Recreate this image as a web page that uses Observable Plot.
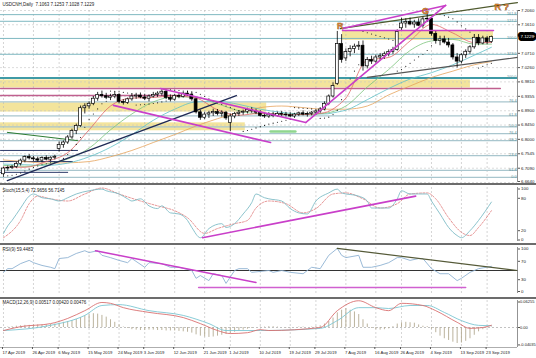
<!DOCTYPE html>
<html><head><meta charset="utf-8">
<script src="https://cdn.jsdelivr.net/npm/d3@7"></script>
<script src="https://cdn.jsdelivr.net/npm/@observablehq/plot@0.6"></script>
<style>
html,body{margin:0;padding:0;background:#fff;}
#chart{width:536px;height:358px;overflow:hidden;font-family:"Liberation Sans",Arial,sans-serif;}
#chart svg{display:block}
.sep{height:2px;background:#6c6c6c;width:536px}
</style></head><body><div id="chart"></div>
<script>
// ---------- DATA ----------
const titleText = "USDCNH,Daily  7.1063 7.1253 7.1028 7.1229";
const stochTitle = "Stoch(15,5,4) 72.9656 56.7145";
const rsiTitle = "RSI(9) 59.4483";
const macdTitle = "MACD(12,26,9) 0.00517 0.00420 0.00476";

const open = [
6.690,6.708,6.710,6.713,6.722,6.733,6.744,6.740,6.737,6.733,
6.741,6.736,6.742,6.770,6.782,6.790,6.806,6.826,6.842,6.898,
6.904,6.912,6.928,6.940,6.936,6.931,6.935,6.940,6.918,6.915,
6.926,6.935,6.938,6.932,6.928,6.935,6.940,6.944,6.950,6.930,
6.925,6.937,6.934,6.944,6.941,6.926,6.885,6.868,6.878,6.882,
6.886,6.880,6.884,6.852,6.872,6.880,6.884,6.887,6.892,6.888,
6.884,6.874,6.872,6.878,6.874,6.880,6.878,6.876,6.872,6.878,
6.882,6.878,6.880,6.884,6.888,6.894,6.912,6.935,6.975,7.100,
7.055,7.075,7.085,7.092,7.095,7.030,7.050,7.045,7.058,7.062,
7.068,7.075,7.082,7.150,7.165,7.170,7.162,7.168,7.158,7.178,
7.180,7.132,7.110,7.115,7.105,7.096,7.058,7.045,7.065,7.076,
7.090,7.120,7.102,7.118,7.1063];
const high = [
6.712,6.716,6.718,6.728,6.738,6.748,6.752,6.746,6.744,6.745,
6.748,6.745,6.750,6.792,6.795,6.812,6.832,6.848,6.905,6.912,
6.918,6.935,6.948,6.952,6.945,6.942,6.948,6.944,6.925,6.930,
6.942,6.945,6.946,6.942,6.940,6.948,6.950,6.956,6.955,6.940,
6.942,6.946,6.948,6.952,6.948,6.930,6.892,6.885,6.888,6.895,
6.894,6.890,6.888,6.880,6.885,6.890,6.892,6.898,6.900,6.895,
6.890,6.882,6.884,6.885,6.886,6.888,6.885,6.884,6.882,6.886,
6.890,6.886,6.888,6.892,6.900,6.918,6.940,6.978,7.140,7.130,
7.085,7.095,7.100,7.108,7.110,7.058,7.062,7.065,7.070,7.075,
7.082,7.090,7.145,7.182,7.180,7.182,7.175,7.180,7.185,7.197,
7.184,7.140,7.125,7.125,7.118,7.102,7.070,7.070,7.082,7.095,
7.128,7.130,7.125,7.124,7.1253];
const low = [
6.684,6.700,6.705,6.708,6.716,6.726,6.735,6.730,6.728,6.726,
6.732,6.730,6.735,6.760,6.772,6.784,6.800,6.815,6.838,6.880,
6.895,6.906,6.920,6.930,6.925,6.922,6.928,6.912,6.908,6.910,
6.920,6.926,6.928,6.922,6.918,6.930,6.932,6.936,6.925,6.918,
6.920,6.928,6.930,6.936,6.920,6.880,6.860,6.862,6.866,6.872,
6.874,6.870,6.860,6.825,6.865,6.872,6.876,6.880,6.882,6.878,
6.870,6.866,6.866,6.868,6.870,6.872,6.870,6.868,6.866,6.872,
6.874,6.870,6.874,6.876,6.882,6.890,6.906,6.930,6.970,7.040,
7.045,7.060,7.070,7.080,7.015,7.022,7.036,7.040,7.048,7.052,
7.060,7.068,7.078,7.140,7.150,7.158,7.150,7.155,7.150,7.168,
7.125,7.100,7.095,7.100,7.088,7.050,7.025,7.038,7.055,7.068,
7.084,7.095,7.098,7.098,7.1028];
const close = [
6.708,6.710,6.713,6.722,6.733,6.744,6.740,6.737,6.733,6.741,
6.736,6.742,6.745,6.782,6.790,6.806,6.826,6.842,6.898,6.904,
6.912,6.928,6.940,6.936,6.931,6.935,6.940,6.918,6.915,6.926,
6.935,6.938,6.932,6.928,6.935,6.940,6.944,6.950,6.930,6.925,
6.937,6.934,6.944,6.941,6.926,6.885,6.868,6.878,6.882,6.886,
6.880,6.884,6.866,6.872,6.880,6.884,6.887,6.892,6.888,6.884,
6.874,6.872,6.878,6.874,6.880,6.878,6.876,6.872,6.878,6.882,
6.878,6.880,6.884,6.888,6.894,6.912,6.935,6.968,7.100,7.050,
7.075,7.085,7.092,7.095,7.030,7.050,7.045,7.058,7.062,7.068,
7.075,7.082,7.138,7.165,7.170,7.162,7.168,7.158,7.178,7.180,
7.132,7.110,7.115,7.105,7.096,7.058,7.045,7.065,7.076,7.090,
7.120,7.102,7.118,7.106,7.1229];
const sar = [
6.684,6.685,6.687,6.690,6.694,6.700,6.706,6.711,6.716,6.720,
6.723,6.726,6.728,6.731,6.740,6.752,6.766,6.784,6.806,6.838,
6.862,6.880,6.896,6.912,6.920,6.952,6.951,6.950,6.948,6.946,
6.944,6.908,6.909,6.910,6.911,6.913,6.915,6.918,6.921,6.956,
6.955,6.954,6.952,6.951,6.950,6.948,6.942,6.935,6.928,6.921,
6.915,6.910,6.905,6.900,6.895,6.891,6.825,6.828,6.832,6.836,
6.840,6.844,6.848,6.851,6.854,6.857,6.860,6.863,6.900,6.899,
6.898,6.897,6.896,6.895,6.866,6.867,6.870,6.878,6.892,6.925,
6.960,6.990,7.015,7.035,7.140,7.136,7.132,7.128,7.124,7.120,
7.116,7.112,7.015,7.020,7.030,7.040,7.050,7.060,7.068,7.080,
7.095,7.197,7.194,7.190,7.185,7.180,7.170,7.158,7.148,7.138,
7.130,7.025,7.030,7.035,7.040];

// moving averages read at sample bars
const maIdx    = [0,5,10,15,20,25,30,35,40,45,50,55,60,65,70,75,78,80,85,90,95,100,105,110,114];
const maRed    = [6.712,6.712,6.730,6.758,6.830,6.905,6.930,6.932,6.937,6.930,6.893,6.876,6.882,6.878,6.878,6.884,6.905,6.930,7.050,7.058,7.110,7.162,7.135,7.105,7.105];
const maGreen  = [6.718,6.715,6.722,6.738,6.772,6.830,6.880,6.918,6.934,6.932,6.912,6.890,6.880,6.880,6.878,6.882,6.892,6.905,6.965,7.020,7.080,7.110,7.115,7.100,7.100];
const maTeal   = [6.722,6.720,6.718,6.725,6.745,6.775,6.815,6.860,6.895,6.918,6.920,6.910,6.895,6.885,6.880,6.880,6.886,6.892,6.925,6.960,6.990,7.010,7.035,7.065,7.090];
const maOrange = [6.735,6.730,6.725,6.726,6.730,6.745,6.765,6.790,6.815,6.842,6.865,6.885,6.900,6.905,6.900,6.895,6.895,6.895,6.905,6.940,6.968,6.995,7.015,7.035,7.045];

// price axis
const priceTicks = [7.2060,7.1610,7.0710,7.0260,6.9810,6.9355,6.8900,6.8450,6.8000,6.7545,6.7090,6.6640];
const lastPrice = 7.1229;

// fibonacci / level lines
const levelPrice = [7.193,7.172,7.118,7.068,6.993,6.918,6.874,6.839,6.818,6.796,6.749,6.702,6.680];
const levelText  = ["161.8","127.2","100.0","123.6","100.0","76.4","61.8","50.0","76.4","38.2","23.6","61.8","0.0"];
const mainLevel = 6.993;

// zones [startBar, endBar, lowPrice, highPrice]
const zoneStart = [-0.7, 79.2, -0.7, -0.7];
const zoneEnd   = [109.1, 114.5, 61.5, 56.5];
const zoneLow   = [6.962, 7.112, 6.886, 6.827];
const zoneHigh  = [6.987, 7.143, 6.915, 6.852];

// trendlines: [bar, price] pairs
const magentaLines = [
  [[25.7,6.907],[62.4,6.790]],
  [[36.7,6.960],[70.6,6.853]],
  [[70.6,6.853],[103.3,7.222]],
  [[79.2,7.149],[103.3,7.222]]
];
const magentaFlat = [[[79.2,7.143],[114.5,7.143]]];
const pinkFlat = [[[-0.7,6.960],[116.1,6.960]],[[-0.7,6.938],[43,6.938]]];
const navyLines = [[[0.9,6.670],[54.4,6.938]]];
const navyShort = [[[-0.7,6.765],[17.3,6.765]],[[-0.7,6.730],[16.1,6.730]],[[-0.7,6.696],[15,6.696]]];
const grayLines = [[[85.0,6.995],[120.1,7.058]]];
const oliveLines = [[[78.7,7.149],[120.1,7.231]]];
const greenLines = [[[0.9,6.822],[17.3,6.796]]];
const lightGreen = [[[62.4,6.825],[68.2,6.825]]];

const annotText  = ["R","G","R ?"];
const annotBar   = [78.7, 98.6, 116.4];
const annotPrice = [7.157, 7.203, 7.2170];

// stochastic
const stochIdx  = [0,1,2,4,6,7,9,11,13,15,17,20,23,24,27,29,30,32,34,36,37,39,41,43,44,46,48,51,52,54,56,58,59,61,62,65,67,69,71,73,76,78,79,83,85,86,90,92,93,95,97,99,100,102,104,106,107,109,111,114];
const stochMain = [15,29,39,62,84,88,81,79,75,81,88,94,97,94,88,79,75,79,66,61,66,53,51,39,26,7,24,33,26,33,51,72,88,81,79,75,61,53,51,75,90,97,90,84,75,62,62,79,94,88,88,88,75,51,26,11,7,20,39,73];
const sigIdx    = [0,4,6,8,11,15,19,23,27,32,36,40,43,47,50,54,57,59,62,66,70,73,77,80,84,88,92,95,99,101,104,107,109,111,114];
const stochSig  = [7,39,70,84,79,75,88,99,88,75,66,57,44,15,24,33,39,62,75,70,53,61,88,90,79,62,70,88,90,79,44,17,11,26,57];
const stochTrend = [[46.5,7],[96.3,84]];

// RSI
const rsiIdx = [0,1,2,4,6,7,9,11,12,13,15,17,19,20,22,23,25,27,29,30,33,34,37,39,41,44,45,46,48,49,51,52,54,55,57,58,62,63,65,67,70,72,74,76,78,79,80,83,84,86,88,90,92,93,95,97,98,100,102,104,106,107,109,111,114];
const rsiVal = [46,54,54,65,72,67,61,57,54,76,78,87,93,89,93,83,78,72,67,76,57,67,65,57,57,50,33,39,28,43,39,22,50,54,54,46,50,46,50,46,43,57,54,83,98,83,78,83,57,57,61,67,78,78,72,76,76,54,43,43,28,33,46,54,59];
const rsiTrendMag = [[21.5,93],[59,24]];
const rsiTrendOlive = [[78,98],[120.1,50]];
const rsiFlat = [[45.6,13],[108,13]];

// MACD
const macdRedIdx = [0,4,11,15,19,23,25,28,34,42,46,50,53,57,60,62,74,78,83,87,90,93,98,101,106,109,112,114];
const macdRed    = [-0.007,0.002,0.009,0.021,0.039,0.058,0.056,0.046,0.035,0.023,0.009,-0.007,-0.014,-0.012,-0.005,-0.007,0.000,0.039,0.062,0.046,0.039,0.056,0.051,0.039,0.012,-0.002,0.000,0.00517];
const macdTealIdx = [0,11,19,23,27,34,42,48,52,60,74,78,83,87,90,95,99,103,107,111,114];
const macdTeal    = [-0.007,0.005,0.028,0.051,0.053,0.039,0.028,0.009,-0.007,-0.007,-0.002,0.016,0.046,0.046,0.044,0.051,0.051,0.035,0.016,0.005,0.0042];
const macdHist = [
0.000,0.001,0.002,0.003,0.004,0.005,0.005,0.006,0.006,0.006,
0.006,0.007,0.008,0.010,0.012,0.014,0.016,0.019,0.023,0.027,
0.030,0.032,0.031,0.028,0.024,0.018,0.012,0.006,0.001,-0.002,
-0.005,-0.006,-0.007,-0.007,-0.006,-0.006,-0.007,-0.007,-0.008,-0.008,
-0.008,-0.009,-0.010,-0.011,-0.013,-0.017,-0.020,-0.022,-0.023,-0.022,
-0.020,-0.018,-0.016,-0.014,-0.011,-0.008,-0.006,-0.004,-0.002,0.000,
0.001,0.001,0.002,0.002,0.001,0.000,-0.001,-0.001,0.000,0.001,
0.001,0.000,0.001,0.002,0.004,0.008,0.014,0.022,0.034,0.040,
0.044,0.040,0.036,0.030,0.018,0.008,-0.002,-0.005,-0.006,-0.005,
-0.003,0.002,0.008,0.011,0.012,0.011,0.010,0.006,0.003,0.002,
-0.004,-0.012,-0.020,-0.026,-0.030,-0.034,-0.037,-0.036,-0.032,-0.026,
-0.018,-0.010,-0.005,-0.001,0.001];
const macdTicks = [0.06255, 0, -0.04035];
const macdTickText = ["0.06255","0.00","-0.04035"];

const tickLabels = ["17 Apr 2019","26 Apr 2019","6 May 2019","15 May 2019","24 May 2019","3 Jun 2019","12 Jun 2019","21 Jun 2019","1 Jul 2019","10 Jul 2019","19 Jul 2019","29 Jul 2019","7 Aug 2019","16 Aug 2019","26 Aug 2019","4 Sep 2019","13 Sep 2019","23 Sep 2019"];

// ---------- BUILD ----------
const months = ["Jan","Feb","Mar","Apr","May","Jun","Jul","Aug","Sep","Oct","Nov","Dec"];
const dates = [];
{
  const d = new Date(Date.UTC(2019,3,17));
  while (dates.length < close.length) {
    const wd = d.getUTCDay();
    if (wd !== 0 && wd !== 6) dates.push(`${d.getUTCDate()} ${months[d.getUTCMonth()]} 2019`);
    d.setUTCDate(d.getUTCDate()+1);
  }
}
const tickIdx = tickLabels.map(t => dates.indexOf(t));
const candles = close.map((c,i) => ({i, o:open[i], h:high[i], l:low[i], c}));
const up = candles.filter(d => d.c >= d.o), down = candles.filter(d => d.c < d.o);
const xDomain = [-0.7, 120.1];
const W = 536, MR = 19;
const FONT = "Liberation Sans, Arial, sans-serif";
const pairs = (idx, v) => idx.map((i,k) => ({i, v:v[k]}));
const segs = (list) => list.flatMap((s,k) => s.map(p => ({k, i:p[0], v:p[1]})));
const zones = zoneStart.map((s,k) => ({s, e:zoneEnd[k], lo:zoneLow[k], hi:zoneHigh[k]}));
const levels = levelPrice.map((p,k) => ({p, t:levelText[k]}));
const annots = annotText.map((t,k) => ({t, i:annotBar[k], p:annotPrice[k]}));
const grid = Plot.ruleX(tickIdx, {stroke:"#b8b8b8", strokeDasharray:"2,2", strokeWidth:0.6});
const rightEdge = Plot.ruleX([xDomain[1]], {stroke:"#777", strokeWidth:0.8});
const style = {fontFamily: FONT, fontSize:"4.5px", background:"transparent", overflow:"visible"};
const lineSeg = (list, o) => Plot.line(segs(list), {x:"i", y:"v", z:"k", ...o});
const AX = {anchor:"right", tickSize:2, tickPadding:1.5, fontSize:4.4, stroke:"#555", fill:"#222", label:null};
const X = {domain: xDomain, axis: null, label: null};

const p1 = Plot.plot({
  width: W, height: 183, marginLeft: 0, marginRight: MR, marginTop: 10, marginBottom: 1,
  x: X,
  y: {domain: [6.664, 7.206], axis: null, label: null},
  style,
  marks: [
    Plot.rect(zones, {x1:"s", x2:"e", y1:"lo", y2:"hi", fill:"#f3e49c"}),
    Plot.ruleY(priceTicks, {stroke:"#c4c4c4", strokeDasharray:"2,2", strokeWidth:0.6}),
    grid,
    Plot.ruleY(levels.filter(d => d.p > 7.0), {y:"p", stroke:"#7fb8c1", strokeWidth:1}),
    Plot.ruleY(levels.filter(d => d.p < 6.95), {y:"p", stroke:"#a9c6ce", strokeWidth:1.3}),
    Plot.ruleY([mainLevel], {stroke:"#3f9aa6", strokeWidth:2}),
    Plot.text(levels, {y:"p", text:"t", frameAnchor:"right", textAnchor:"end", dx:-1, dy:-1, fill:"#5d9099", fontSize:3.8}),
    lineSeg(pinkFlat, {stroke:"#c0608f", strokeWidth:1.4}),
    lineSeg(navyShort, {stroke:"#2c3a6a", strokeWidth:1}),
    lineSeg(greenLines, {stroke:"#2e7d32", strokeWidth:1}),
    lineSeg(lightGreen, {stroke:"#8fd68f", strokeWidth:2.5}),
    Plot.line(pairs(maIdx, maOrange), {x:"i", y:"v", stroke:"#e6a35c", strokeWidth:0.8, curve:"monotone-x"}),
    Plot.line(pairs(maIdx, maTeal), {x:"i", y:"v", stroke:"#5fc0c6", strokeWidth:0.8, curve:"monotone-x"}),
    Plot.line(pairs(maIdx, maGreen), {x:"i", y:"v", stroke:"#7cc47c", strokeWidth:0.8, curve:"monotone-x"}),
    Plot.line(pairs(maIdx, maRed), {x:"i", y:"v", stroke:"#e06666", strokeWidth:0.8, curve:"monotone-x"}),
    Plot.dot(sar.map((v,i) => ({i, v})), {x:"i", y:"v", r:0.55, fill:"#111", stroke:null}),
    lineSeg(navyLines, {stroke:"#1f2a55", strokeWidth:1.4}),
    lineSeg(grayLines, {stroke:"#555", strokeWidth:1.2}),
    lineSeg(oliveLines, {stroke:"#4f5a2e", strokeWidth:1.2}),
    Plot.ruleX(candles, {x:"i", y1:"l", y2:"h", stroke:"#000", strokeWidth:0.8}),
    Plot.rect(up, {x1: d => d.i - 0.34, x2: d => d.i + 0.34, y1:"o", y2:"c", fill:"#fff", stroke:"#000", strokeWidth:0.7}),
    Plot.rect(down, {x1: d => d.i - 0.34, x2: d => d.i + 0.34, y1:"o", y2:"c", fill:"#000", stroke:"#000", strokeWidth:0.7}),
    lineSeg(magentaLines, {stroke:"#c93fc9", strokeWidth:1.6}),
    lineSeg(magentaFlat, {stroke:"#c93fc9", strokeWidth:1.4}),
    Plot.text(annots, {x:"i", y:"p", text:"t", fill:"#d07a2c", stroke:"#5a3410", strokeWidth:0.4, fontWeight:"bold", fontSize:9}),
    rightEdge,
    Plot.axisY({...AX, ticks: priceTicks.slice(0, -1), tickFormat: d => d.toFixed(4)}),
    Plot.axisY({...AX, ticks: priceTicks.slice(-1), tickFormat: d => d.toFixed(4), dy:-1}),
    Plot.text([lastPrice], {y: d => d, text: d => d.toFixed(4), frameAnchor:"right", textAnchor:"start", dx:3, fill:"#fff", stroke:"#000", strokeWidth:6, paintOrder:"stroke", fontSize:4.4}),
    Plot.text([titleText], {frameAnchor:"top-left", dx:2, dy:-8, fontSize:4.5, fill:"#222"})
  ]
});

const p2 = Plot.plot({
  width: W, height: 58, marginLeft: 0, marginRight: MR, marginTop: 2, marginBottom: 2,
  x: X,
  y: {domain: [0, 100], axis: null, label: null},
  style,
  marks: [
    grid,
    Plot.line(pairs(sigIdx, stochSig), {x:"i", y:"v", stroke:"#e07a7a", strokeWidth:0.8, strokeDasharray:"2,1.5", curve:"monotone-x"}),
    Plot.line(pairs(stochIdx, stochMain), {x:"i", y:"v", stroke:"#7fbcc6", strokeWidth:0.9, curve:"monotone-x"}),
    Plot.line(stochTrend, {x:d => d[0], y:d => d[1], stroke:"#c93fc9", strokeWidth:1.6}),
    rightEdge,
    Plot.axisY({...AX, ticks:[100], dy:1.5}),
    Plot.axisY({...AX, ticks:[80,20]}),
    Plot.axisY({...AX, ticks:[0], dy:-1.5}),
    Plot.text([stochTitle], {frameAnchor:"top-left", dx:2, dy:1, fontSize:4.5, fill:"#222"})
  ]
});

const p3 = Plot.plot({
  width: W, height: 52, marginLeft: 0, marginRight: MR, marginTop: 2, marginBottom: 4,
  x: X,
  y: {domain: [0, 100], axis: null, label: null},
  style,
  marks: [
    grid,
    Plot.ruleY([50], {stroke:"#333", strokeWidth:1}),
    Plot.line(pairs(rsiIdx, rsiVal), {x:"i", y:"v", stroke:"#8fb2d2", strokeWidth:0.9}),
    Plot.line(rsiTrendMag, {x:d => d[0], y:d => d[1], stroke:"#c93fc9", strokeWidth:1.5}),
    Plot.line(rsiTrendOlive, {x:d => d[0], y:d => d[1], stroke:"#555a38", strokeWidth:1.2}),
    Plot.line(rsiFlat, {x:d => d[0], y:d => d[1], stroke:"#d060d0", strokeWidth:1.5}),
    rightEdge,
    Plot.axisY({...AX, ticks:[100], dy:1.5}),
    Plot.axisY({...AX, ticks:[70,30]}),
    Plot.axisY({...AX, ticks:[0], dy:-2}),
    Plot.text([rsiTitle], {frameAnchor:"top-left", dx:2, dy:0, fontSize:4.5, fill:"#222"})
  ]
});

const p4 = Plot.plot({
  width: W, height: 59, marginLeft: 0, marginRight: MR, marginTop: 1, marginBottom: 11,
  x: X,
  y: {domain: [-0.0463, 0.06255], axis: null, label: null},
  style,
  marks: [
    grid,
    Plot.ruleY([0], {stroke:"#999", strokeDasharray:"2,2", strokeWidth:0.6}),
    Plot.ruleX(macdHist.map((v,i) => ({i, v})), {x:"i", y1:0, y2:"v", stroke:"#b3aa92", strokeWidth:0.9}),
    Plot.line(pairs(macdTealIdx, macdTeal), {x:"i", y:"v", stroke:"#7cc6d2", strokeWidth:0.9, curve:"monotone-x"}),
    Plot.line(pairs(macdRedIdx, macdRed), {x:"i", y:"v", stroke:"#d97070", strokeWidth:0.9, curve:"monotone-x"}),
    rightEdge,
    Plot.ruleY([-0.0463], {stroke:"#777", strokeWidth:0.6}),
    Plot.axisY({...AX, ticks: macdTicks.slice(0,1), tickFormat: () => macdTickText[0], tickPadding:0.5, fontSize:4, dy:1.5}),
    Plot.axisY({...AX, ticks: macdTicks.slice(1), tickFormat: d => macdTickText[macdTicks.indexOf(d)], tickPadding:0.5, fontSize:4}),
    Plot.axisX({anchor:"bottom", ticks: tickIdx, tickFormat: i => dates[i], tickSize:2, tickPadding:2, textAnchor:"start", dx:-1, fontSize:4.2, stroke:"#555", fill:"#222", label:null}),
    Plot.text([macdTitle], {frameAnchor:"top-left", dx:2, dy:0.5, fontSize:4.5, fill:"#222"})
  ]
});

const root = document.getElementById("chart");
const sep = () => { const s = document.createElement("div"); s.className = "sep"; return s; };
root.append(p1, sep(), p2, sep(), p3, sep(), p4);
</script>
</body></html>
